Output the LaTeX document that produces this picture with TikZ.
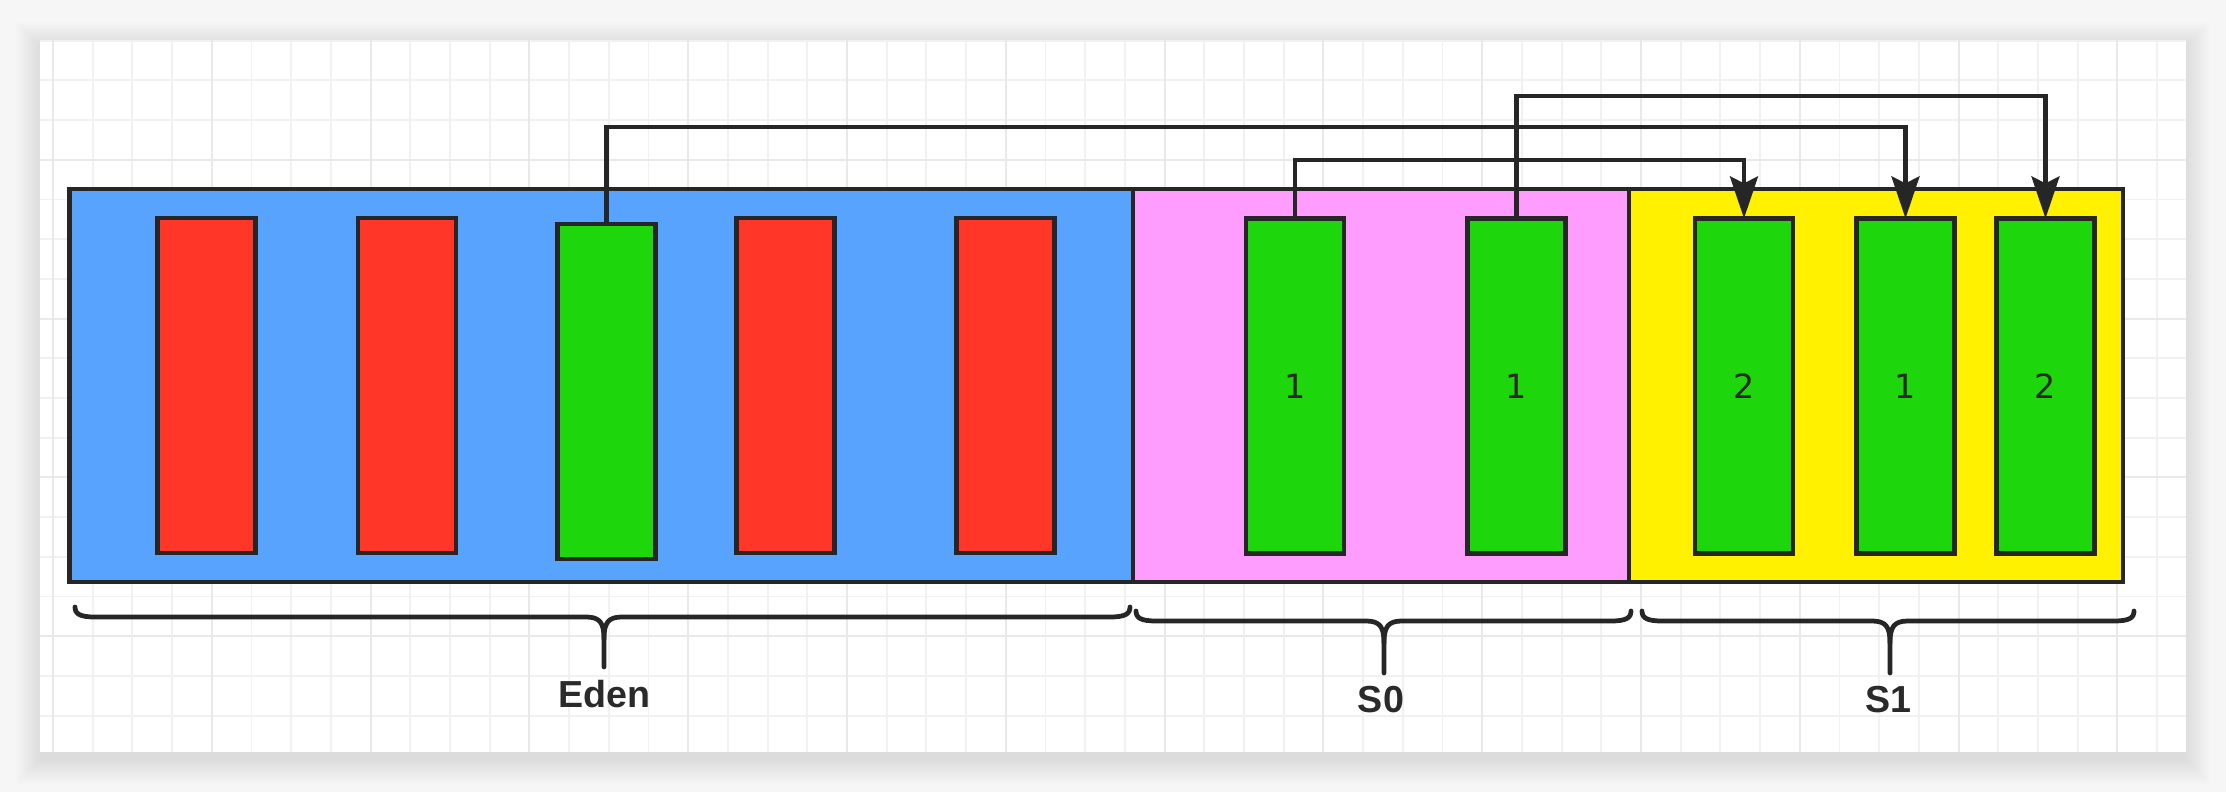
\documentclass[tikz,border=0pt]{standalone}
\usepackage{fontspec}
\setmainfont{Liberation Sans}
\newfontfamily\numfont{DejaVu Sans}
\usetikzlibrary{arrows.meta,calc}
\definecolor{pagebg}{HTML}{F6F6F6}
\definecolor{gridmin}{HTML}{F1F1F1}
\definecolor{gridmaj}{HTML}{E9E9E9}
\definecolor{edenblue}{HTML}{58A3FE}
\definecolor{szpink}{HTML}{FE9DFD}
\definecolor{soyellow}{HTML}{FFF100}
\definecolor{barred}{HTML}{FF3628}
\definecolor{bargreen}{HTML}{1ED60C}
\definecolor{edge}{HTML}{262626}
\definecolor{txt}{HTML}{2A2A2A}
\newcommand\hbr[5]{%
  \draw[bracestyle] (#1,#4) .. controls (#1,#4+7) and (#1+5,#4+10) .. (#1+20,#4+10) -- (#2-18,#4+10) .. controls (#2-4,#4+10) and (#2,#4+16) .. (#2,#4+32) -- (#2,#5);
  \draw[bracestyle] (#2,#4+32) .. controls (#2,#4+16) and (#2+4,#4+10) .. (#2+18,#4+10) -- (#3-20,#4+10) .. controls (#3-5,#4+10) and (#3,#4+7) .. (#3,#4);}
\begin{document}
\begin{tikzpicture}[x=0.01cm,y=-0.01cm,
  region/.style={draw=edge, line width=1.3pt, minimum height=3.93cm, inner sep=0pt, outer sep=0pt},
  bar/.style={draw=edge, line width=1.3pt, minimum width=0.98cm, minimum height=3.35cm, inner sep=0pt, outer sep=0pt, font=\numfont\fontsize{9.5}{11}\selectfont, text=txt},
  redbar/.style={bar, fill=barred},
  greenbar/.style={bar, fill=bargreen},
  conn/.style={draw=edge, line width=1.2pt, -{Stealth[length=0.42cm,width=0.28cm,inset=0.07cm]}},
  bracestyle/.style={draw=edge, line width=1.35pt, line cap=round},
  lbl/.style={font=\bfseries\fontsize{10.7}{12}\selectfont, text=txt, inner sep=0pt}]
\useasboundingbox (0,0) rectangle (2226,792);
\fill[pagebg] (0,0) rectangle (2226,792);
% soft shadow
\foreach \i in {0,2,...,24}{\fill[black,opacity=0.006] (40-\i,46-\i) rectangle (2186+\i,760+\i);}
% card with grid
\fill[white] (40,40) rectangle (2186,752);
\foreach \k in {0,...,53}{\pgfmathsetmacro\gx{53+39.7*\k}\draw[gridmin,line width=0.55pt] (\gx,40) -- (\gx,752);}
\foreach \k in {0,...,17}{\pgfmathsetmacro\gy{40.7+39.7*\k}\draw[gridmin,line width=0.55pt] (40,\gy) -- (2186,\gy);}
\foreach \k in {0,4,...,52}{\pgfmathsetmacro\gx{53+39.7*\k}\draw[gridmaj,line width=0.6pt] (\gx,40) -- (\gx,752);}
\foreach \k in {3,7,...,15}{\pgfmathsetmacro\gy{40.7+39.7*\k}\draw[gridmaj,line width=0.6pt] (40,\gy) -- (2186,\gy);}
% regions
\node[region, fill=edenblue, minimum width=10.63cm] (eden) at (601.5,385.5) {};
\node[region, fill=szpink, minimum width=4.96cm] (szero) at (1381,385.5) {};
\node[region, fill=soyellow, minimum width=4.94cm] (sone) at (1876,385.5) {};
% Eden bars
\node[redbar] (ra) at (206.5,385.5) {};
\node[redbar] (rb) at (407,385.5) {};
\node[greenbar] (eg) at (606.5,391.5) {};
\node[redbar] (rc) at (785.5,385.5) {};
\node[redbar] (rd) at (1005.5,385.5) {};
% S0 bars
\node[greenbar] (sa) at (1295,386) {1};
\node[greenbar] (sb) at (1516.5,386) {1};
% S1 bars
\node[greenbar] (ta) at (1744,386) {2};
\node[greenbar] (tb) at (1905.5,386) {1};
\node[greenbar] (tc) at (2045.5,386) {2};
% connectors
\draw[conn] (eg.north) -- ++(0,-97) -| (tb.north);
\draw[conn] (sa.north) -- ++(0,-58) -| (ta.north);
\draw[conn] (sb.north) -- ++(0,-122) -| (tc.north);
% braces
\hbr{75}{604}{1130}{607}{667}
\hbr{1136}{1384}{1631}{611}{673}
\hbr{1642}{1890}{2134}{611}{673}
% labels
\node[lbl] (edenlbl) at (604,694) {Eden};
\node[lbl] (szerolbl) at (1381,700) {S0};
\node[lbl] (sonelbl) at (1888,700) {S1};
\end{tikzpicture}
\end{document}
